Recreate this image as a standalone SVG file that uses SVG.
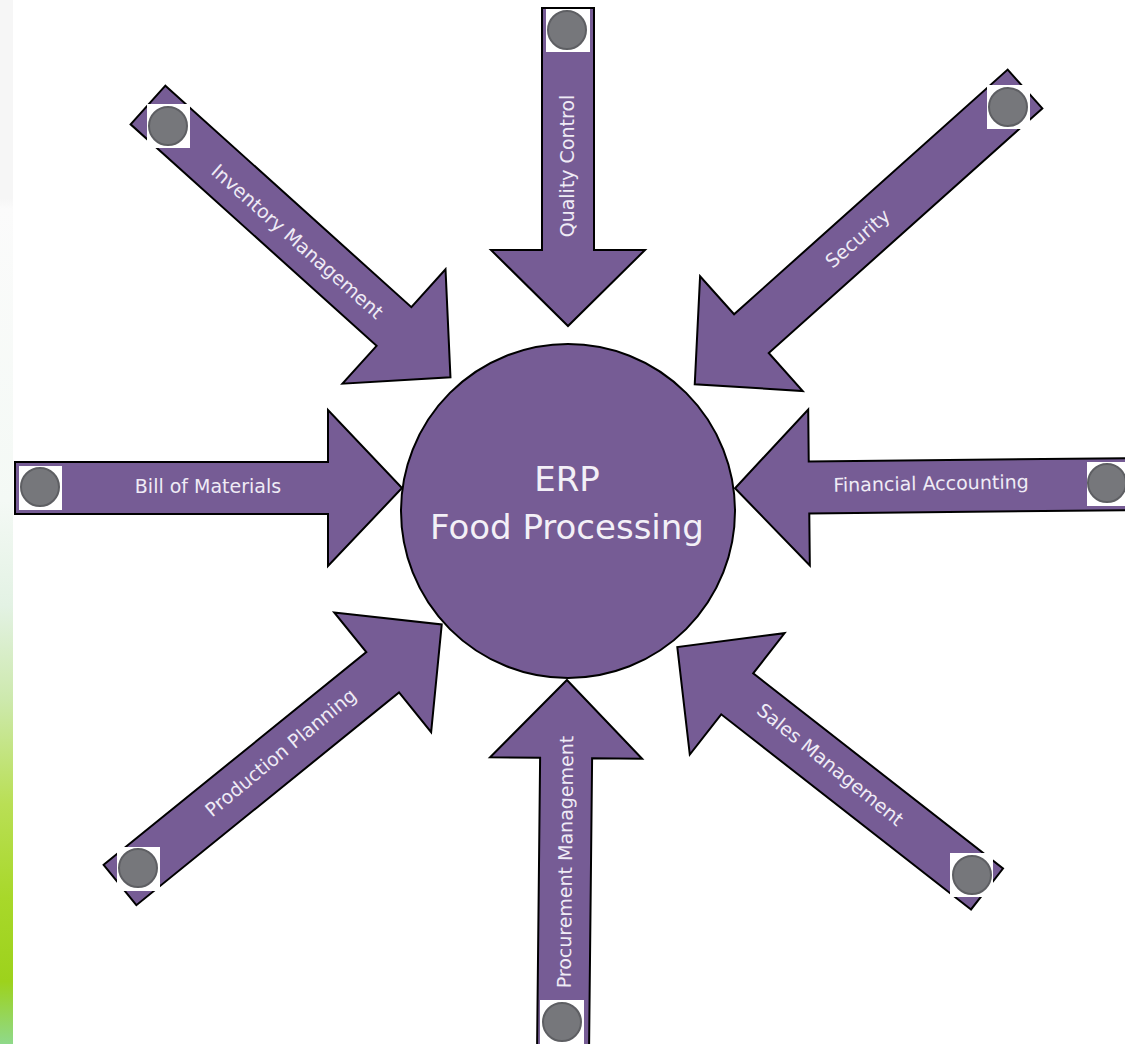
<svg xmlns="http://www.w3.org/2000/svg" width="1125" height="1044" viewBox="0 0 1125 1044">
<defs>
<linearGradient id="strip" x1="0" y1="0" x2="0" y2="1">
<stop offset="0" stop-color="#f6f6f6"/>
<stop offset="0.19" stop-color="#f6f6f6"/>
<stop offset="0.2" stop-color="#fbfbfb"/>
<stop offset="0.48" stop-color="#f4f9f5"/>
<stop offset="0.58" stop-color="#e3f2e4"/>
<stop offset="0.67" stop-color="#cde9ad"/>
<stop offset="0.77" stop-color="#b9df55"/>
<stop offset="0.86" stop-color="#a8d82a"/>
<stop offset="0.94" stop-color="#9dd21c"/>
<stop offset="1" stop-color="#8fd98a"/>
</linearGradient>
<style>
.arrow{fill:#765c95;stroke:#000;stroke-width:2;stroke-linejoin:miter}
.lbl{font-family:"DejaVu Sans",Verdana,sans-serif;font-size:19px;fill:#efebf5;text-anchor:middle}
.pad{fill:#fff}
.dot{fill:#76777b;stroke:#5e5f63;stroke-width:2}
.hub{fill:#765c95;stroke:#000;stroke-width:2}
.title{font-family:"DejaVu Sans",Verdana,sans-serif;font-size:34px;fill:#f3f0f7;text-anchor:middle}
</style>
</defs>
<rect width="1125" height="1044" fill="#fff"/>
<rect x="0" y="0" width="13" height="1044" fill="url(#strip)"/>
<g id="connectors">
<g id="arrow-quality"><polygon class="arrow" transform="translate(568,8) rotate(90)" points="0,-26 242,-26 242,-77 318,0 242,77 242,26 0,26"/></g>
<g id="arrow-inventory"><polygon class="arrow" transform="translate(148,105) rotate(42)" points="0,-26 331,-26 331,-77 407,0 331,77 331,26 0,26"/></g>
<g id="arrow-security"><polygon class="arrow" transform="translate(1025,89) rotate(138.2)" points="0,-26 367,-26 367,-77 443,0 367,77 367,26 0,26"/></g>
<g id="arrow-bill"><polygon class="arrow" transform="translate(15,488)" points="0,-26 313,-26 313,-78 387,0 313,78 313,26 0,26"/></g>
<g id="arrow-financial"><polygon class="arrow" transform="translate(1140,484) rotate(179.4)" points="0,-26 331,-26 331,-78 405,0 331,78 331,26 0,26"/></g>
<g id="arrow-production"><polygon class="arrow" transform="translate(120,885) rotate(-39)" points="0,-26 338,-26 338,-77 414,0 338,77 338,26 0,26"/></g>
<g id="arrow-procurement"><polygon class="arrow" transform="translate(563,1055) rotate(-89.4)" points="0,-26 297,-26 297,-76 375,0 297,76 297,26 0,26"/></g>
<g id="arrow-sales"><polygon class="arrow" transform="translate(987,889) rotate(218)" points="0,-26 317,-26 317,-77 393,0 317,77 317,26 0,26"/></g>
</g>
<g id="node-erp">
<circle class="hub" cx="568" cy="511" r="167"/>
<text class="title" x="567" y="491">ERP</text>
<text class="title" x="567" y="539">Food Processing</text>
</g>
<g id="node-quality">
<rect class="pad" x="546" y="9" width="44" height="43"/>
<circle class="dot" cx="567" cy="30" r="19"/>
<text class="lbl" transform="translate(568,166) rotate(-90)" y="6">Quality Control</text>
</g>
<g id="node-inventory">
<rect class="pad" x="147" y="104" width="43" height="44"/>
<circle class="dot" cx="168" cy="126" r="19"/>
<text class="lbl" transform="translate(297,242) rotate(41.5)" y="6">Inventory Management</text>
</g>
<g id="node-security">
<rect class="pad" x="987" y="85" width="43" height="44"/>
<circle class="dot" cx="1008" cy="107" r="19"/>
<text class="lbl" transform="translate(858,239) rotate(-41)" y="6">Security</text>
</g>
<g id="node-bill">
<rect class="pad" x="19" y="466" width="43" height="44"/>
<circle class="dot" cx="40" cy="487" r="19"/>
<text class="lbl" x="208" y="493">Bill of Materials</text>
</g>
<g id="node-financial">
<rect class="pad" x="1087" y="462" width="43" height="44"/>
<circle class="dot" cx="1107" cy="483" r="19"/>
<text class="lbl" transform="translate(931,484) rotate(-1)" y="6">Financial Accounting</text>
</g>
<g id="node-production">
<rect class="pad" x="117" y="847" width="43" height="44"/>
<circle class="dot" cx="138" cy="868" r="19"/>
<text class="lbl" transform="translate(281,753) rotate(-39.5)" y="6">Production Planning</text>
</g>
<g id="node-procurement">
<rect class="pad" x="540" y="1000" width="44" height="44"/>
<circle class="dot" cx="562" cy="1022" r="19"/>
<text class="lbl" transform="translate(566,862) rotate(-89.4)" y="6">Procurement Management</text>
</g>
<g id="node-sales">
<rect class="pad" x="950" y="853" width="43" height="44"/>
<circle class="dot" cx="972" cy="875" r="19"/>
<text class="lbl" transform="translate(830,765) rotate(39)" y="6">Sales Management</text>
</g>
</svg>
